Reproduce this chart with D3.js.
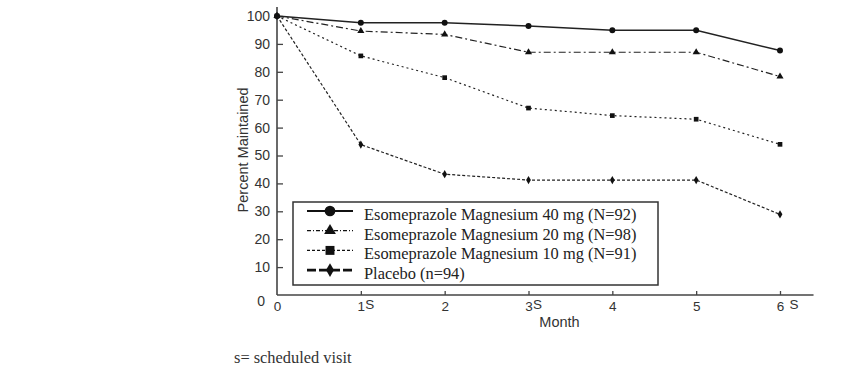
<!DOCTYPE html>
<html>
<head>
<meta charset="utf-8">
<script src="https://cdn.jsdelivr.net/npm/d3@7"></script>
<style>
  body { margin: 0; background: #fff; }
</style>
</head>
<body>
<div id="graph"></div>
<script>
// Data
const months = [0, 1, 2, 3, 4, 5, 6];
const scheduledMonths = [1, 3, 6];
const yTicks = [0, 10, 20, 30, 40, 50, 60, 70, 80, 90, 100];

const esome40 = [100, 97.6, 97.6, 96.4, 94.9, 94.9, 87.6];
const esome20 = [100, 94.6, 93.4, 87.0, 87.0, 87.0, 78.3];
const esome10 = [100, 85.7, 77.9, 67.0, 64.3, 63.0, 54.0];
const placebo = [100, 53.9, 43.3, 41.2, 41.2, 41.2, 28.9];

const seriesNames = [
    "Esomeprazole Magnesium 40 mg (N=92)",
    "Esomeprazole Magnesium 20 mg (N=98)",
    "Esomeprazole Magnesium 10 mg (N=91)",
    "Placebo (n=94)"
];

const width = 847, height = 371;
const sans = "Liberation Sans, Arial, sans-serif";
const serif = "Liberation Serif, Times New Roman, serif";

// styles for each series
const series = [
    {name: seriesNames[0], values: esome40, dash: null, width: 1.6, marker: d3.symbolCircle, size: 28, legDash: null, legWidth: 2.2, legSize: 90},
    {name: seriesNames[1], values: esome20, dash: "7,3,2,3", width: 1.2, marker: d3.symbolTriangle, size: 22, legDash: "4,2,1,2", legWidth: 1.2, legSize: 60},
    {name: seriesNames[2], values: esome10, dash: "2,3", width: 1.2, marker: d3.symbolSquare, size: 22, legDash: "3,2", legWidth: 1.4, legSize: 80},
    {name: seriesNames[3], values: placebo, dash: "3,2", width: 1.2, marker: d3.symbolDiamond, size: 20, legDash: "9,3", legWidth: 2.6, legSize: 55}
];

const svg = d3.select("#graph")
    .append("svg")
    .attr("width", width)
    .attr("height", height);

// Echelles
const x = d3.scaleLinear()
    .domain([0, 6])
    .range([277, 780]);

const y = d3.scaleLinear()
    .domain([0, 100])
    .range([295, 16]);

const axisColor = "#444";

// axe Y (ticks inward)
const yAxis = svg.append("g")
    .attr("transform", "translate(" + x(0) + ",0)")
    .call(d3.axisLeft(y).tickValues(yTicks).tickFormat(d3.format("d"))
        .tickSizeInner(-6).tickSizeOuter(0).tickPadding(7));

yAxis.select(".domain").remove();
yAxis.selectAll("line").attr("stroke", axisColor).attr("stroke-width", 1.3)
    .filter(d => d === 0).remove();
yAxis.selectAll("text")
    .attr("font-family", sans)
    .attr("font-size", 14)
    .attr("fill", "#333");
// the 0 label sits a bit lower and further left
yAxis.selectAll("text").filter(d => d === 0)
    .attr("dx", -5)
    .attr("dy", "0.75em");

// axe X (ticks inward)
const xAxis = svg.append("g")
    .attr("transform", "translate(0," + y(0) + ")")
    .call(d3.axisBottom(x).tickValues(months).tickFormat(d3.format("d"))
        .tickSizeInner(-4).tickSizeOuter(0).tickPadding(6));

xAxis.select(".domain").remove();
xAxis.selectAll("line").attr("stroke", axisColor).attr("stroke-width", 1.3)
    .filter(d => d === 0).remove();
xAxis.selectAll("text")
    .attr("font-family", sans)
    .attr("font-size", 13.5)
    .attr("fill", "#333");

// "S" for scheduled visits
xAxis.selectAll(".tick")
    .filter(d => scheduledMonths.includes(d))
    .append("text")
    .attr("x", d => d === 6 ? 9 : 4)
    .attr("y", 4)
    .attr("dy", "0.71em")
    .attr("text-anchor", "start")
    .attr("font-family", sans)
    .attr("font-size", 13.5)
    .attr("fill", "#333")
    .text("S");

// axis lines
svg.append("line")
    .attr("x1", x(0)).attr("x2", x(0))
    .attr("y1", y(0)).attr("y2", y(103.2))
    .attr("stroke", axisColor).attr("stroke-width", 1.6);

svg.append("line")
    .attr("x1", x(0)).attr("x2", x(6.4))
    .attr("y1", y(0)).attr("y2", y(0))
    .attr("stroke", axisColor).attr("stroke-width", 1.6);

// axis titles
svg.append("text")
    .attr("transform", "translate(248," + y(52) + ") rotate(-90)")
    .attr("text-anchor", "middle")
    .attr("font-family", sans)
    .attr("font-size", 14.5)
    .attr("fill", "#333")
    .text("Percent Maintained");

svg.append("text")
    .attr("x", x(3.37))
    .attr("y", 327)
    .attr("text-anchor", "middle")
    .attr("font-family", sans)
    .attr("font-size", 14.5)
    .attr("fill", "#333")
    .text("Month");

// lines
const line = d3.line()
    .x((d, i) => x(months[i]))
    .y(d => y(d));

series.forEach(s => {
    svg.append("path")
        .datum(s.values)
        .attr("d", line)
        .attr("fill", "none")
        .attr("stroke", "#222")
        .attr("stroke-width", s.width)
        .attr("stroke-dasharray", s.dash);

    svg.selectAll(null)
        .data(s.values)
        .join("path")
        .attr("transform", (d, i) => "translate(" + x(months[i]) + "," + y(d) + ")")
        .attr("d", d3.symbol().type(s.marker).size(s.size))
        .attr("fill", "#111");
});

// Legende
const legend = svg.append("g");

legend.append("rect")
    .attr("x", 293)
    .attr("y", 202)
    .attr("width", 365)
    .attr("height", 83)
    .attr("fill", "#fff")
    .attr("stroke", "#333")
    .attr("stroke-width", 1.5);

series.forEach((s, i) => {
    const ly = 211 + i * 19.7;
    legend.append("line")
        .attr("x1", 307).attr("x2", 353)
        .attr("y1", ly).attr("y2", ly)
        .attr("stroke", "#111")
        .attr("stroke-width", s.legWidth)
        .attr("stroke-dasharray", s.legDash);
    legend.append("path")
        .attr("transform", "translate(330," + ly + ")")
        .attr("d", d3.symbol().type(s.marker).size(s.legSize))
        .attr("fill", "#111");
    legend.append("text")
        .attr("x", 364)
        .attr("y", ly + 9)
        .attr("font-family", serif)
        .attr("font-size", 16.4)
        .attr("fill", "#222")
        .text(s.name);
});

// note en bas
svg.append("text")
    .attr("x", 234)
    .attr("y", 363)
    .attr("font-family", serif)
    .attr("font-size", 16.4)
    .attr("fill", "#333")
    .text("s= scheduled visit");
</script>
</body>
</html>
